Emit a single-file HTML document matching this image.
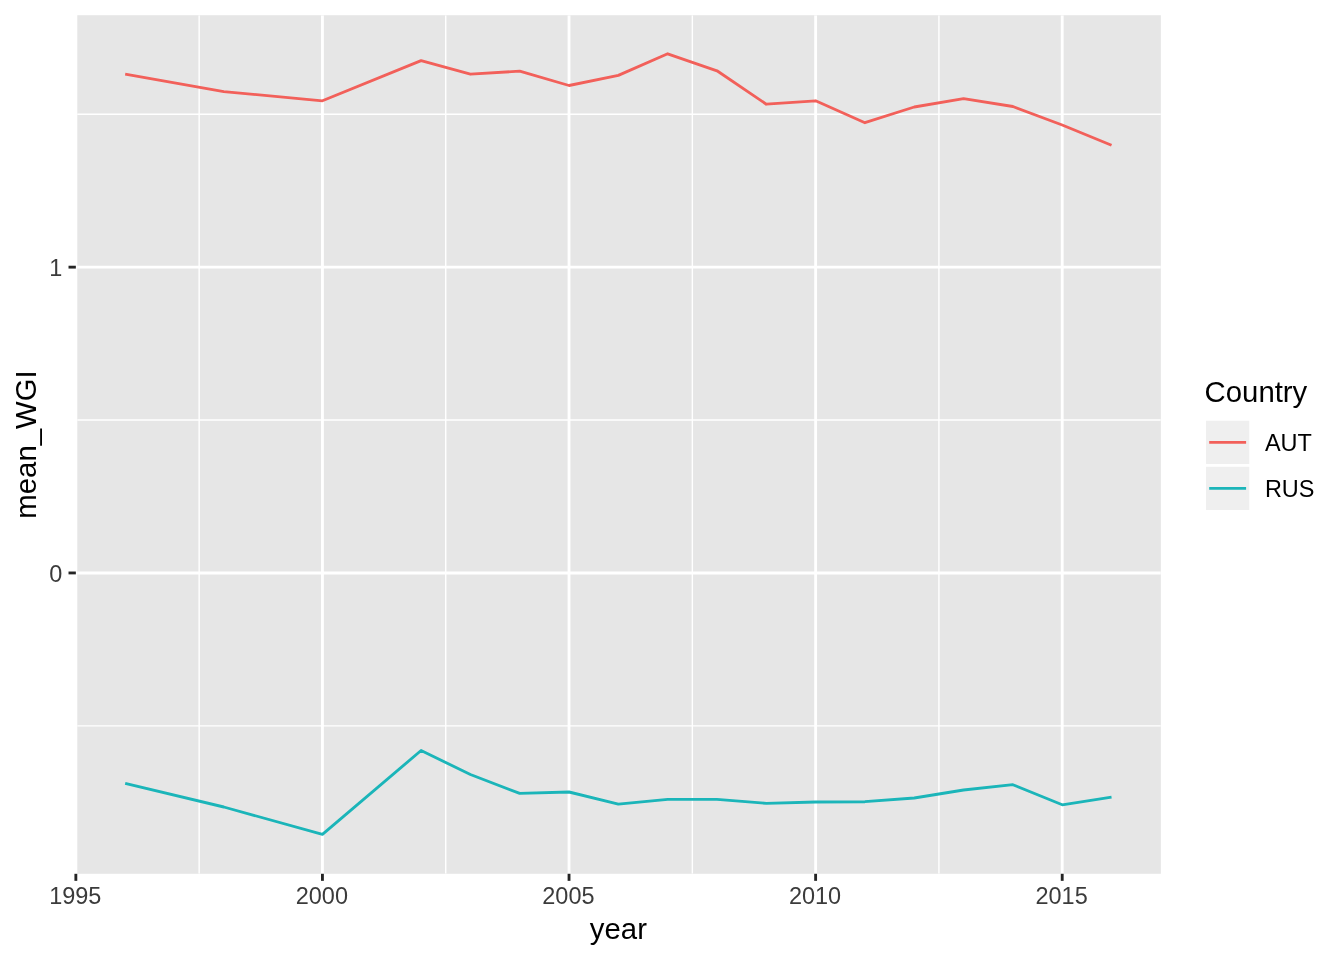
<!DOCTYPE html>
<html lang="en"><head><meta charset="utf-8"><title>mean_WGI by year</title>
<style>html,body{margin:0;padding:0;background:#fff;}svg{display:block;}text{font-family:"Liberation Sans",Arial,Helvetica,sans-serif;}.ax{font-size:23.47px;fill:#3B3B3B;}.ti{font-size:29.33px;fill:#000;}.lg{font-size:23.47px;fill:#000;}</style></head><body>
<svg width="1344" height="960" viewBox="0 0 1344 960">
<rect x="0" y="0" width="1344" height="960" fill="#fff"/>
<defs><clipPath id="pc"><rect x="77.30" y="15.20" width="1083.55" height="858.60"/></clipPath></defs>
<rect x="77.30" y="15.20" width="1083.55" height="858.60" fill="#E6E6E6"/>
<g clip-path="url(#pc)" stroke="#fff" fill="none">
<line x1="75.85" x2="1160.85" y1="114.25" y2="114.25" stroke-width="1.42"/>
<line x1="75.85" x2="1160.85" y1="420.05" y2="420.05" stroke-width="1.42"/>
<line x1="75.85" x2="1160.85" y1="725.85" y2="725.85" stroke-width="1.42"/>
<line x1="199.15" x2="199.15" y1="15.20" y2="873.80" stroke-width="1.42"/>
<line x1="445.74" x2="445.74" y1="15.20" y2="873.80" stroke-width="1.42"/>
<line x1="692.33" x2="692.33" y1="15.20" y2="873.80" stroke-width="1.42"/>
<line x1="938.92" x2="938.92" y1="15.20" y2="873.80" stroke-width="1.42"/>
<line x1="75.85" x2="1160.85" y1="267.15" y2="267.15" stroke-width="2.85"/>
<line x1="75.85" x2="1160.85" y1="572.95" y2="572.95" stroke-width="2.85"/>
<line x1="322.44" x2="322.44" y1="15.20" y2="873.80" stroke-width="2.85"/>
<line x1="569.03" x2="569.03" y1="15.20" y2="873.80" stroke-width="2.85"/>
<line x1="815.62" x2="815.62" y1="15.20" y2="873.80" stroke-width="2.85"/>
<line x1="1062.21" x2="1062.21" y1="15.20" y2="873.80" stroke-width="2.85"/>
<polyline points="125.17,74.10 223.80,91.60 322.44,100.80 421.08,60.60 470.40,74.20 519.71,71.20 569.03,85.50 618.35,75.40 667.67,53.80 716.99,70.80 766.30,104.20 815.62,100.80 864.94,122.70 914.26,107.00 963.58,98.70 1012.90,106.50 1062.21,125.00 1111.53,145.30" stroke="#F2605A" stroke-width="2.85" stroke-linejoin="round" stroke-linecap="butt"/>
<polyline points="125.17,783.30 223.80,807.00 322.44,834.30 421.08,750.50 470.40,774.50 519.71,793.40 569.03,792.00 618.35,804.10 667.67,799.40 716.99,799.40 766.30,803.30 815.62,802.00 864.94,801.70 914.26,798.00 963.58,790.00 1012.90,784.70 1062.21,804.80 1111.53,797.10" stroke="#1BB5B9" stroke-width="2.85" stroke-linejoin="round" stroke-linecap="butt"/>
</g>
<g stroke="#242424" stroke-width="2.85">
<line x1="75.85" x2="75.85" y1="873.80" y2="880.85"/>
<line x1="322.44" x2="322.44" y1="873.80" y2="880.85"/>
<line x1="569.03" x2="569.03" y1="873.80" y2="880.85"/>
<line x1="815.62" x2="815.62" y1="873.80" y2="880.85"/>
<line x1="1062.21" x2="1062.21" y1="873.80" y2="880.85"/>
<line x1="68.52" x2="75.85" y1="267.15" y2="267.15"/>
<line x1="68.52" x2="75.85" y1="572.95" y2="572.95"/>
</g>
<text class="ax" x="75.25" y="903.9" text-anchor="middle">1995</text>
<text class="ax" x="321.84" y="903.9" text-anchor="middle">2000</text>
<text class="ax" x="568.43" y="903.9" text-anchor="middle">2005</text>
<text class="ax" x="815.02" y="903.9" text-anchor="middle">2010</text>
<text class="ax" x="1061.61" y="903.9" text-anchor="middle">2015</text>
<text class="ax" x="62.25" y="276.25" text-anchor="end">1</text>
<text class="ax" x="62.25" y="582.05" text-anchor="end">0</text>
<text class="ti" x="618.4" y="938.8" text-anchor="middle">year</text>
<text class="ti" transform="translate(36.3,444.5) rotate(-90)" text-anchor="middle">mean_WGI</text>
<text class="ti" x="1204.6" y="401.8">Country</text>
<rect x="1204.6" y="419.30" width="46.08" height="46.08" fill="#EFEFEF" stroke="#fff" stroke-width="2.85"/>
<line x1="1209.2" x2="1246.1" y1="442.34" y2="442.34" stroke="#F2605A" stroke-width="2.85"/>
<text class="lg" x="1264.9" y="450.74">AUT</text>
<rect x="1204.6" y="465.38" width="46.08" height="46.08" fill="#EFEFEF" stroke="#fff" stroke-width="2.85"/>
<line x1="1209.2" x2="1246.1" y1="488.42" y2="488.42" stroke="#1BB5B9" stroke-width="2.85"/>
<text class="lg" x="1264.9" y="496.82">RUS</text>
</svg></body></html>
